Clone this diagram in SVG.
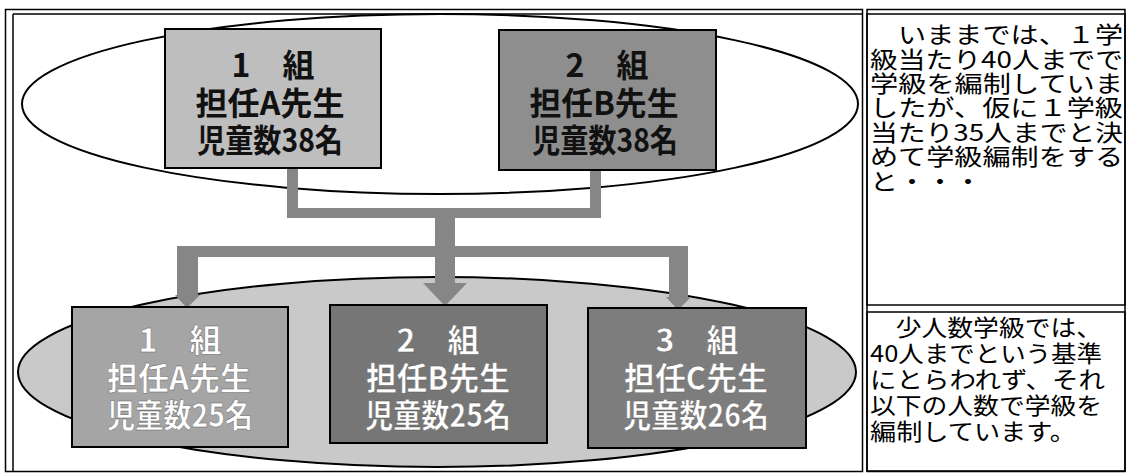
<svg xmlns="http://www.w3.org/2000/svg" width="1130" height="473" viewBox="0 0 1130 473">
<style>
.frame{fill:none;stroke:#000;stroke-width:1.5}
.ell{stroke:#000;stroke-width:2}
.box{stroke:#000;stroke-width:2}
.bt{font-family:"Noto Sans CJK JP","Noto Sans CJK SC",sans-serif;font-size:32px;font-weight:bold;text-anchor:middle}
.dark{fill:#111}
.light{fill:#fff;stroke:#555;stroke-width:0.4}
.conn{fill:#868686}
.pt{font-family:"Noto Sans CJK JP","Noto Sans CJK SC",sans-serif;font-size:23px;fill:#000}
</style>
<rect width="1130" height="473" fill="#fff"/>
<g id="frames">
<rect class="frame" x="5.5" y="9.5" width="857" height="462"/>
<line class="frame" x1="13" y1="14" x2="13" y2="471"/>
<line class="frame" x1="13" y1="14" x2="862" y2="14"/>
<rect class="frame" x="867" y="9.5" width="258" height="462"/>
<rect class="frame" x="867" y="14" width="258" height="291"/>
<rect class="frame" x="867" y="312" width="258" height="159"/>
</g>
<g id="ellipses">
<ellipse class="ell" cx="440" cy="104" rx="418" ry="90" fill="#fff"/>
<ellipse class="ell" cx="437" cy="372" rx="419" ry="95" fill="#c9c9c9"/>
</g>
<g id="connectors" class="conn">
<rect x="287" y="168" width="11" height="50"/>
<rect x="590" y="170" width="11" height="48"/>
<rect x="287" y="208" width="314" height="10"/>
<rect x="435" y="208" width="20" height="76"/>
<polygon points="423,283 467,283 445,306"/>
<rect x="177" y="246" width="511" height="11"/>
<rect x="177" y="246" width="21" height="50"/>
<polygon points="175,295 200,295 187,308"/>
<rect x="669" y="246" width="19" height="52"/>
<polygon points="666,297 691,297 678,310"/>
</g>
<g id="top1">
<rect class="box" x="165" y="29" width="216" height="139" fill="#bebebe"/>
<text class="bt dark" x="273" y="77">1　組</text>
<text class="bt dark" x="270" y="115" textLength="149" lengthAdjust="spacingAndGlyphs">担任A先生</text>
<text class="bt dark" x="270" y="152" textLength="146" lengthAdjust="spacingAndGlyphs">児童数38名</text>
</g>
<g id="top2">
<rect class="box" x="499" y="30" width="217" height="140" fill="#8e8e8e"/>
<text class="bt dark" x="607" y="77">2　組</text>
<text class="bt dark" x="604" y="115" textLength="149" lengthAdjust="spacingAndGlyphs">担任B先生</text>
<text class="bt dark" x="605" y="152" textLength="146" lengthAdjust="spacingAndGlyphs">児童数38名</text>
</g>
<g id="bottom1">
<rect class="box" x="72" y="307" width="216" height="140" fill="#a5a5a5"/>
<text class="bt light" x="180" y="352">1　組</text>
<text class="bt light" x="179" y="390" textLength="144" lengthAdjust="spacingAndGlyphs">担任A先生</text>
<text class="bt light" x="180" y="427" textLength="146" lengthAdjust="spacingAndGlyphs">児童数25名</text>
</g>
<g id="bottom2">
<rect class="box" x="330" y="305" width="217" height="138" fill="#767676"/>
<text class="bt light" x="438" y="352">2　組</text>
<text class="bt light" x="438" y="390" textLength="144" lengthAdjust="spacingAndGlyphs">担任B先生</text>
<text class="bt light" x="438" y="427" textLength="146" lengthAdjust="spacingAndGlyphs">児童数25名</text>
</g>
<g id="bottom3">
<rect class="box" x="588" y="308" width="218" height="140" fill="#7d7d7d"/>
<text class="bt light" x="697" y="352">3　組</text>
<text class="bt light" x="696" y="390" textLength="144" lengthAdjust="spacingAndGlyphs">担任C先生</text>
<text class="bt light" x="696" y="427" textLength="146" lengthAdjust="spacingAndGlyphs">児童数26名</text>
</g>
<g id="note1">
<text class="pt" x="870" y="43" textLength="253" lengthAdjust="spacingAndGlyphs">　いままでは、１学</text>
<text class="pt" x="870" y="68" textLength="253" lengthAdjust="spacingAndGlyphs">級当たり40人までで</text>
<text class="pt" x="870" y="92" textLength="253" lengthAdjust="spacingAndGlyphs">学級を編制していま</text>
<text class="pt" x="870" y="116" textLength="253" lengthAdjust="spacingAndGlyphs">したが、仮に１学級</text>
<text class="pt" x="870" y="141" textLength="253" lengthAdjust="spacingAndGlyphs">当たり35人までと決</text>
<text class="pt" x="870" y="165" textLength="253" lengthAdjust="spacingAndGlyphs">めて学級編制をする</text>
<text class="pt" x="870" y="190" textLength="112" lengthAdjust="spacingAndGlyphs">と・・・</text>
</g>
<g id="note2">
<text class="pt" x="870" y="336" textLength="232" lengthAdjust="spacingAndGlyphs">　少人数学級では、</text>
<text class="pt" x="870" y="362" textLength="232" lengthAdjust="spacingAndGlyphs">40人までという基準</text>
<text class="pt" x="870" y="388" textLength="235" lengthAdjust="spacingAndGlyphs">にとらわれず、それ</text>
<text class="pt" x="870" y="414" textLength="232" lengthAdjust="spacingAndGlyphs">以下の人数で学級を</text>
<text class="pt" x="870" y="440" textLength="206" lengthAdjust="spacingAndGlyphs">編制しています。</text>
</g>
</svg>
